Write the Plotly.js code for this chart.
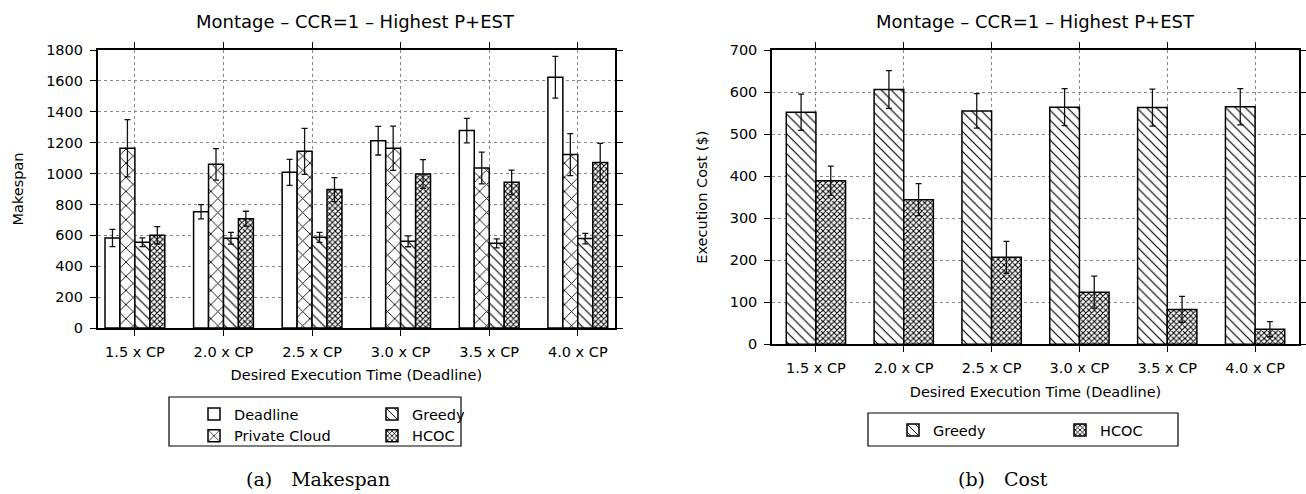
<!DOCTYPE html>
<html>
<head>
<meta charset="utf-8">
<script src="https://cdn.plot.ly/plotly-3.0.1.min.js"></script>
<style>html,body{margin:0;padding:0;background:#fff;}#chart{width:1306px;height:494px;}</style>
</head>
<body>
<div id="chart"></div>
<script>
// ---- data ----
const categories = ['1.5 x CP', '2.0 x CP', '2.5 x CP', '3.0 x CP', '3.5 x CP', '4.0 x CP'];

// (a) Makespan
const deadlineMakespan = [583, 753, 1008, 1213, 1278, 1624];
const deadlineMakespanErr = [56, 46, 84, 93, 79, 135];
const privateCloudMakespan = [1164, 1060, 1144, 1164, 1036, 1123];
const privateCloudMakespanErr = [185, 102, 149, 143, 103, 136];
const greedyMakespan = [555, 581, 587, 561, 548, 579];
const greedyMakespanErr = [28, 38, 32, 35, 29, 34];
const hcocMakespan = [600, 708, 896, 997, 943, 1071];
const hcocMakespanErr = [56, 48, 78, 93, 79, 124];

// (b) Cost
const greedyCost = [552, 606, 555, 564, 563, 565];
const greedyCostErr = [43, 45, 41, 44, 44, 43];
const hcocCost = [389, 344, 207, 124, 83, 36];
const hcocCostErr = [35, 38, 38, 38, 31, 18];

const chartTitle = 'Montage \u2013 CCR=1 \u2013 Highest P+EST';
const xTitle = 'Desired Execution Time (Deadline)';

// ---- styling helpers ----
const W = 1306, H = 494;
const px = v => v / W;
const py = v => 1 - v / H;
const FONT = 'DejaVu Sans, Liberation Sans, Arial, sans-serif';
const SERIF = 'DejaVu Serif, Liberation Serif, serif';
const TXT = '#000';

const patterns = {
  deadline: {shape: '', fgcolor: '#000', bgcolor: '#fff'},
  privateCloud: {shape: 'x', size: 10, solidity: 0.17, fgcolor: '#000', bgcolor: '#fff'},
  greedy: {shape: '\\', size: 7, solidity: 0.17, fgcolor: '#000', bgcolor: '#fff'},
  hcoc: {shape: 'x', size: 4, solidity: 0.45, fgcolor: '#000', bgcolor: '#fff'}
};

function barTrace(name, y, err, pat, xa, ya, legend, rank) {
  return {
    type: 'bar', name: name, x: categories, y: y,
    xaxis: xa, yaxis: ya, legend: legend, legendrank: rank,
    marker: {color: '#fff', line: {color: '#000', width: 1.5}, pattern: pat},
    error_y: {type: 'data', array: err, visible: true, color: '#111', thickness: 1.3, width: 3},
    hoverinfo: 'x+y+name'
  };
}

const traces = [
  barTrace('Deadline', deadlineMakespan, deadlineMakespanErr, patterns.deadline, 'x', 'y', 'legend', 1),
  barTrace('Private Cloud', privateCloudMakespan, privateCloudMakespanErr, patterns.privateCloud, 'x', 'y', 'legend', 2),
  barTrace('Greedy', greedyMakespan, greedyMakespanErr, patterns.greedy, 'x', 'y', 'legend2', 1),
  barTrace('HCOC', hcocMakespan, hcocMakespanErr, patterns.hcoc, 'x', 'y', 'legend2', 2),
  barTrace('Greedy', greedyCost, greedyCostErr, patterns.greedy, 'x2', 'y2', 'legend3', 1),
  barTrace('HCOC', hcocCost, hcocCostErr, patterns.hcoc, 'x2', 'y2', 'legend4', 1)
];

const axisCommon = {
  showline: true, linecolor: '#000', linewidth: 1.5, mirror: 'ticks',
  ticks: 'outside', ticklen: 6, tickcolor: '#000', tickwidth: 1,
  showgrid: true, gridcolor: '#888', griddash: 'dot', gridwidth: 1,
  zeroline: false, tickfont: {family: FONT, size: 14.5, color: TXT},
  fixedrange: true
};

const legendCommon = {
  orientation: 'v', bgcolor: 'rgba(0,0,0,0)', borderwidth: 0,
  font: {family: FONT, size: 14.5, color: TXT},
  xanchor: 'left', yanchor: 'top', traceorder: 'normal', itemclick: false, itemdoubleclick: false
};

const layout = {
  width: W, height: H,
  margin: {l: 0, r: 0, t: 0, b: 0},
  paper_bgcolor: '#fff', plot_bgcolor: '#fff',
  font: {family: FONT, color: TXT},
  barmode: 'group', bargap: 0.325, bargroupgap: 0,
  showlegend: true,
  xaxis: Object.assign({}, axisCommon, {
    domain: [px(97.7), px(615)], anchor: 'y', type: 'category',
    range: [-0.42, 5.42], ticklabelstandoff: 4,
    title: {text: xTitle, font: {family: FONT, size: 14.5, color: TXT}, standoff: 11}
  }),
  yaxis: Object.assign({}, axisCommon, {
    domain: [py(328), py(50)], anchor: 'x', range: [0, 1800], dtick: 200,
    ticklabelstandoff: 4,
    title: {text: 'Makespan', font: {family: FONT, size: 14.5, color: TXT}, standoff: 19}
  }),
  xaxis2: Object.assign({}, axisCommon, {
    domain: [px(772), px(1299)], anchor: 'y2', type: 'category',
    range: [-0.5, 5.5], ticklabelstandoff: 4,
    title: {text: xTitle, font: {family: FONT, size: 14.5, color: TXT}, standoff: 11}
  }),
  yaxis2: Object.assign({}, axisCommon, {
    domain: [py(344.3), py(50)], anchor: 'x2', range: [0, 700], dtick: 100,
    ticklabelstandoff: 4,
    title: {text: 'Execution Cost ($)', font: {family: FONT, size: 14.5, color: TXT}, standoff: 19}
  }),
  legend: Object.assign({}, legendCommon, {x: px(194), y: py(398)}),
  legend2: Object.assign({}, legendCommon, {x: px(372), y: py(398)}),
  legend3: Object.assign({}, legendCommon, {x: px(893), y: py(414)}),
  legend4: Object.assign({}, legendCommon, {x: px(1060), y: py(414)}),
  shapes: [
    {type: 'rect', xref: 'paper', yref: 'paper', x0: px(169), x1: px(461), y0: py(446), y1: py(397),
     line: {color: '#000', width: 1.2}, fillcolor: 'rgba(0,0,0,0)'},
    {type: 'rect', xref: 'paper', yref: 'paper', x0: px(868), x1: px(1178), y0: py(446), y1: py(413),
     line: {color: '#000', width: 1.2}, fillcolor: 'rgba(0,0,0,0)'}
  ],
  annotations: [
    {text: chartTitle, xref: 'paper', yref: 'paper', x: px(356), y: py(21), xanchor: 'center', yanchor: 'middle',
     showarrow: false, font: {family: FONT, size: 18, color: TXT}},
    {text: chartTitle, xref: 'paper', yref: 'paper', x: px(1035.5), y: py(21), xanchor: 'center', yanchor: 'middle',
     showarrow: false, font: {family: FONT, size: 18, color: TXT}},
    {text: '(a)\u2003Makespan', xref: 'paper', yref: 'paper', x: px(318), y: py(479), xanchor: 'center', yanchor: 'middle',
     showarrow: false, font: {family: SERIF, size: 19, color: TXT}},
    {text: '(b)\u2003Cost', xref: 'paper', yref: 'paper', x: px(1003), y: py(479), xanchor: 'center', yanchor: 'middle',
     showarrow: false, font: {family: SERIF, size: 19, color: TXT}}
  ]
};

Plotly.newPlot('chart', traces, layout, {displayModeBar: false, staticPlot: false, responsive: false});
</script>
</body>
</html>
